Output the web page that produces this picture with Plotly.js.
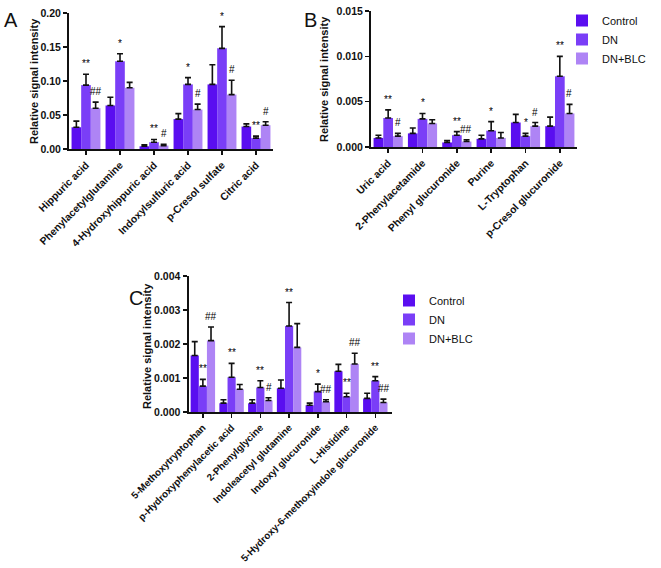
<!DOCTYPE html>
<html><head><meta charset="utf-8">
<script src="https://cdn.plot.ly/plotly-3.0.1.min.js"></script>
<style>html,body{margin:0;padding:0;background:#fff}#chart{width:661px;height:568px}</style>
</head><body><div id="chart"></div>
<script>
// ---- Data ----
const seriesNames = ['Control','DN','DN+BLC'];
const seriesColors = ['#5a0ef0','#7a3ef7','#ae84f5'];
const yTitle = 'Relative signal intensity';

const catsA = ['Hippuric acid','Phenylacetylglutamine','4-Hydroxyhippuric acid','Indoxylsulfuric acid','p-Cresol sulfate','Citric acid'];
const ctrlA = [0.032,0.064,0.004,0.044,0.095,0.033];
const ctrlAErr = [0.009,0.012,0.002,0.008,0.029,0.004];
const dnA = [0.094,0.129,0.010,0.095,0.148,0.016];
const dnAErr = [0.016,0.011,0.004,0.010,0.032,0.003];
const blcA = [0.060,0.090,0.005,0.058,0.080,0.035];
const blcAErr = [0.009,0.008,0.002,0.008,0.021,0.005];
const dnMarkA = ['**','*','**','*','*','**'];
const blcMarkA = ['##','','#','#','#','#'];

const catsB = ['Uric acid','2-Phenylacetamide','Phenyl glucuronide','Purine','L-Tryptophan','p-Cresol glucuronide'];
const ctrlB = [0.0010,0.0015,0.0005,0.0009,0.0027,0.0023];
const ctrlBErr = [0.0003,0.0006,0.0002,0.0004,0.0009,0.0010];
const dnB = [0.0032,0.0031,0.0013,0.0018,0.0012,0.0078];
const dnBErr = [0.0009,0.0006,0.0004,0.0010,0.0003,0.0022];
const blcB = [0.0012,0.0026,0.0006,0.0010,0.0023,0.0037];
const blcBErr = [0.0003,0.0004,0.0002,0.0006,0.0004,0.0010];
const dnMarkB = ['**','*','**','*','*','**'];
const blcMarkB = ['#','','##','','#','#'];

const catsC = ['5-Methoxytryptophan','p-Hydroxyphenylacetic acid','2-Phenylglycine','Indoleacetyl glutamine','Indoxyl glucuronide','L-Histidine','5-Hydroxy-6-methoxyindole glucuronide'];
const ctrlC = [0.00166,0.00026,0.00026,0.00070,0.00020,0.00120,0.00040];
const ctrlCErr = [0.00041,0.00010,0.00010,0.00024,0.00006,0.00020,0.00015];
const dnC = [0.00076,0.00102,0.00072,0.00253,0.00060,0.00045,0.00092];
const dnCErr = [0.00020,0.00041,0.00020,0.00069,0.00022,0.00010,0.00012];
const blcC = [0.00210,0.00067,0.00034,0.00190,0.00030,0.00141,0.00028];
const blcCErr = [0.00040,0.00014,0.00008,0.00070,0.00006,0.00032,0.00010];
const dnMarkC = ['**','**','**','**','*','**','**'];
const blcMarkC = ['##','','#','','##','##','##'];

// ---- Build ----
const FONT = 'Liberation Sans, Arial, sans-serif';
const W=661,H=568;
const traces = [];
const annotations = [];

function panel(ax, cats, vals, errs, marks, legendName, showLeg, barW){
  const xa = 'x' + (ax===1?'':ax), ya = 'y' + (ax===1?'':ax);
  vals.forEach((v,i)=>{
    traces.push({
      type:'bar', x:cats, y:v, name:seriesNames[i], xaxis:xa, yaxis:ya,
      marker:{color:seriesColors[i], line:{width:0}},
      error_y:{type:'data', symmetric:false, array:errs[i], arrayminus:v.map(()=>0),
               color:'#111', thickness:1.6, width:3},
      legend:legendName, showlegend:showLeg, hoverinfo:'skip'
    });
  });
  [1,2].forEach(si=>{
    marks[si-1].forEach((m,ci)=>{
      if(!m) return;
      annotations.push({
        xref:xa, yref:ya, x:cats[ci], y:vals[si][ci]+errs[si][ci],
        xshift:(si-1)*barW, yshift:3, yanchor:'bottom', showarrow:false,
        text:m, font:{family:FONT, size:10, color:'#000'}
      });
    });
  });
}

panel(1, catsA, [ctrlA,dnA,blcA], [ctrlAErr,dnAErr,blcAErr], [dnMarkA,blcMarkA], 'legend', true, 9.6);
panel(2, catsB, [ctrlB,dnB,blcB], [ctrlBErr,dnBErr,blcBErr], [dnMarkB,blcMarkB], 'legend', false, 9.6);
panel(3, catsC, [ctrlC,dnC,blcC], [ctrlCErr,dnCErr,blcCErr], [dnMarkC,blcMarkC], 'legend2', true, 8.2);

[['A',2,20],['B',302,20],['C',127,298]].forEach(([t,px,py])=>{
  annotations.push({xref:'paper',yref:'paper',x:px/W,y:1-py/H,xanchor:'left',yanchor:'middle',
    showarrow:false,text:t,font:{family:FONT,size:20,color:'#111'}});
});
// y-axis titles
[[34,81],[324,79],[147,346]].forEach(([px,py])=>{
  annotations.push({xref:'paper',yref:'paper',x:px/W,y:1-py/H,xanchor:'center',yanchor:'middle',
    textangle:-90, showarrow:false, text:yTitle,
    font:{family:FONT,size:11,color:'#111',weight:'bold'}});
});

const xAxisBase = {type:'category', showline:true, linecolor:'#111', linewidth:2,
  ticks:'outside', ticklen:4, tickwidth:1.5, tickcolor:'#111', tickangle:-45,
  tickfont:{family:FONT,size:10.4,color:'#111',weight:'bold'}, showgrid:false, zeroline:false, fixedrange:true};
const yAxisBase = {showline:true, linecolor:'#111', linewidth:2, ticks:'outside', ticklen:4, tickwidth:1.5,
  tickcolor:'#111', tickfont:{family:FONT,size:10.5,color:'#111',weight:'bold'}, showgrid:false, zeroline:false};

const layout = {
  width:W, height:H, margin:{l:0,r:0,t:0,b:0}, paper_bgcolor:'#fff', plot_bgcolor:'#fff',
  barmode:'group', bargap:0.15, bargroupgap:0,
  font:{family:FONT,color:'#111'},
  xaxis: Object.assign({}, xAxisBase, {domain:[69/W,273/W], anchor:'y'}),
  yaxis: Object.assign({}, yAxisBase, {domain:[1-149/H,1-13/H], range:[0,0.20], dtick:0.05, tickformat:'.2f', anchor:'x'}),
  xaxis2: Object.assign({}, xAxisBase, {domain:[371/W,577/W], anchor:'y2'}),
  yaxis2: Object.assign({}, yAxisBase, {domain:[1-147/H,1-11/H], range:[0,0.015], dtick:0.005, tickformat:'.3f', anchor:'x2'}),
  xaxis3: Object.assign({}, xAxisBase, {domain:[188.5/W,391.5/W], anchor:'y3',
    tickfont:{family:FONT,size:9.9,color:'#111',weight:'bold'}}),
  yaxis3: Object.assign({}, yAxisBase, {domain:[1-412/H,1-276/H], range:[0,0.004], dtick:0.001, tickformat:'.3f', anchor:'x3'}),
  legend:{x:562/W, y:1-6/H, xanchor:'left', yanchor:'top', bgcolor:'rgba(0,0,0,0)',
    font:{family:FONT,size:11,color:'#111'}, tracegroupgap:0, itemwidth:30},
  legend2:{x:389/W, y:1-286/H, xanchor:'left', yanchor:'top', bgcolor:'rgba(0,0,0,0)',
    font:{family:FONT,size:11,color:'#111'}, tracegroupgap:0, itemwidth:30},
  annotations: annotations
};

Plotly.newPlot('chart', traces, layout, {displayModeBar:false, staticPlot:true});
</script>
</body></html>
